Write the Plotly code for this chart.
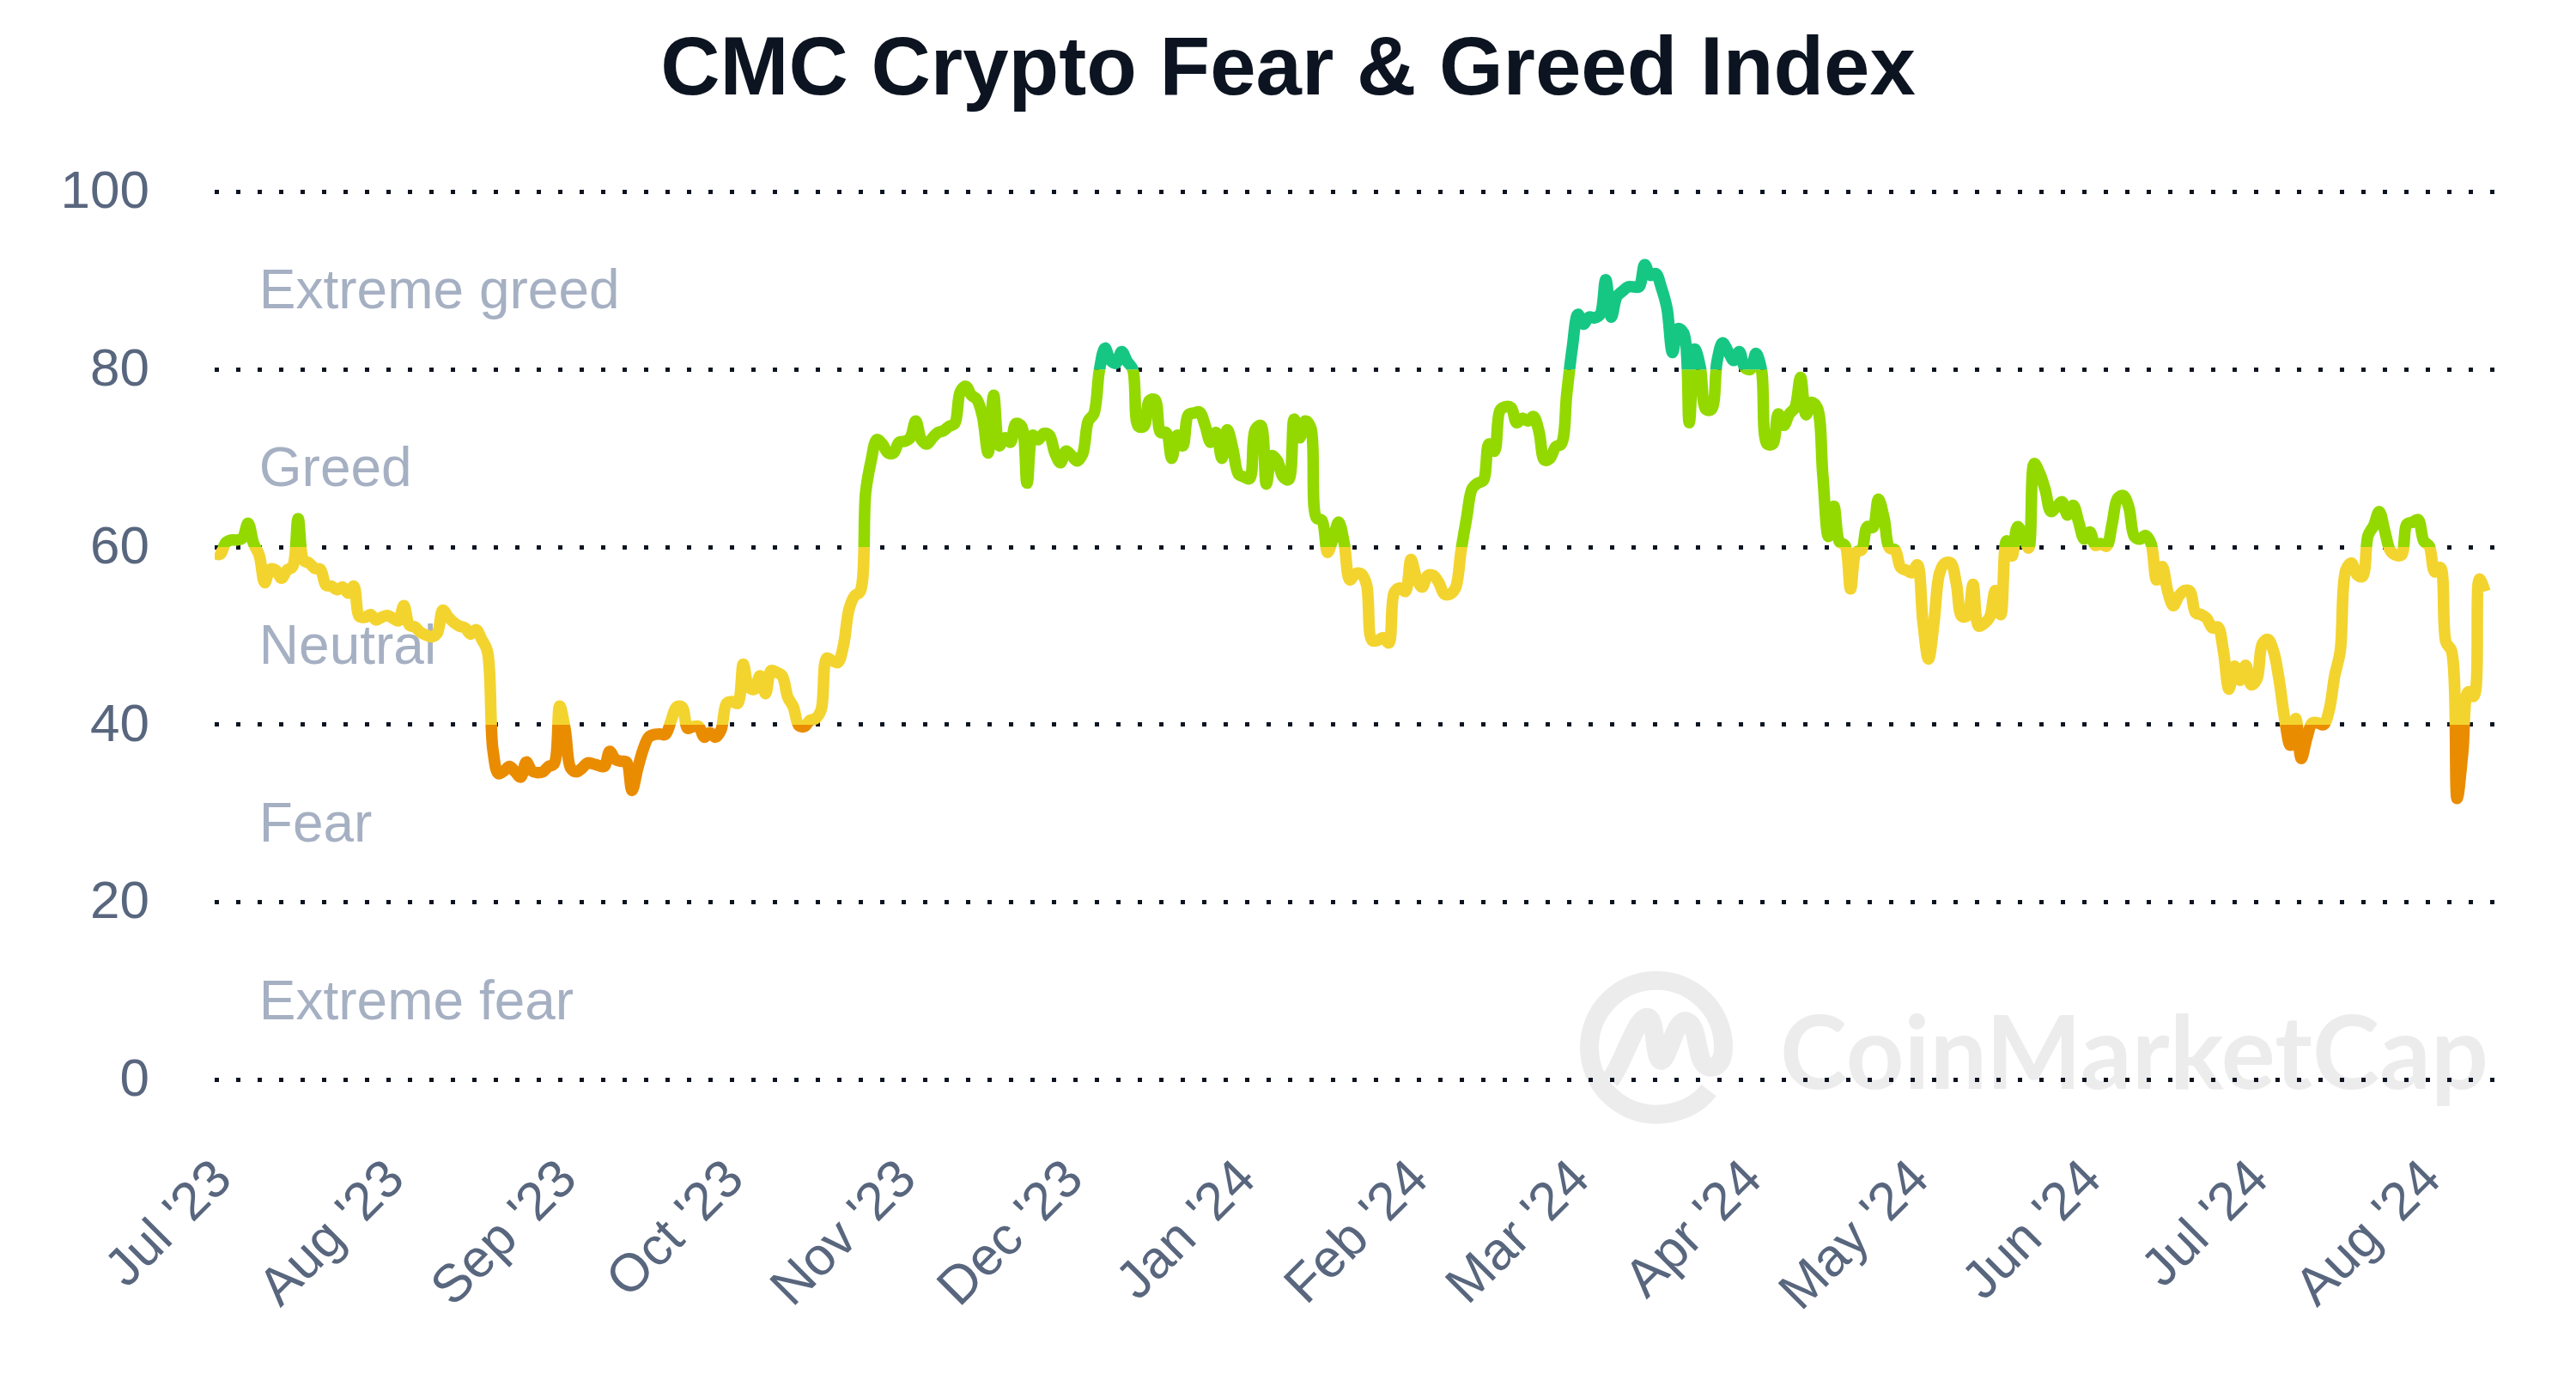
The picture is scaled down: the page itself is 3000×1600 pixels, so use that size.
## CMC Crypto Fear & Greed Index, daily readings from the chart
import pandas as pd
import plotly.graph_objects as go

start_date = "2023-06-29"

fear_greed_values = [
    59.3, 59.2, 60.5, 60.8, 60.8, 61, 62.7, 60.4, 59.1, 56,
    57.5, 57.4, 56.5, 57.4, 57.8, 63.2, 58.5, 58.2, 57.6, 57.5,
    55.7, 55.6, 55.2, 55.5, 54.8, 55.6, 52.2, 52.1, 52.4, 51.8,
    52.1, 52.3, 52, 51.7, 53.4, 51.2, 51, 50.4, 50.1, 49.9,
    50.3, 52.9, 52.1, 51.5, 51.1, 50.9, 50.2, 50.7, 49.6, 48.3,
    37.2, 34.5, 34.8, 35.3, 34.7, 34.1, 35.8, 34.8, 34.6, 34.7,
    35.3, 35.6, 42.1, 39.4, 35.1, 34.7, 35.1, 35.7, 35.6, 35.4,
    35.3, 37, 36.1, 35.9, 35.8, 32.6, 35, 37.2, 38.6, 38.9,
    38.95, 38.9, 40.4, 42, 42, 39.6, 39.8, 39.8, 38.6, 39.1,
    38.6, 39.4, 42.4, 42.6, 42.4, 46.8, 44.2, 44, 45.5, 43.5,
    46.1, 45.9, 45.5, 43.1, 42, 39.9, 39.8, 40.5, 40.7, 41.7,
    47.5, 47.2, 47, 48.9, 53, 54.5, 55, 66.2, 69.8, 72.1,
    71.6, 70.6, 70.6, 71.8, 71.9, 72.3, 74.2, 72.1, 71.6, 72.3,
    72.9, 73.1, 73.6, 73.9, 77.5, 78.1, 77.1, 76.6, 74.7, 70.6,
    77.1, 71.4, 72.3, 71.8, 73.9, 73.6, 67.2, 72.6, 72.1, 72.8,
    72.6, 70.6, 69.5, 70.8, 70.3, 69.7, 70.5, 74.2, 75, 79.9,
    82.4, 81, 80.7, 82, 80.9, 80, 73.6, 73.6, 76.5, 76.6,
    72.9, 72.9, 70, 72.6, 71.4, 74.9, 75.1, 75.2, 73.7, 71.8,
    72.9, 70, 73.2, 71, 68.2, 67.9, 67.7, 73.2, 73.7, 67.1,
    70.3, 69.7, 67.9, 67.6, 74.4, 72.3, 74.2, 73.4, 63.3, 63,
    59.4, 61, 62.8, 60.4, 56.3, 57, 57, 55.8, 49.5, 49.5,
    49.8, 49.2, 54.9, 55.4, 55, 58.6, 56.5, 55.5, 56.8, 56.8,
    56, 54.7, 54.7, 55.4, 59.6, 63.3, 66.6, 67.2, 67.5, 71.6,
    70.8, 75.4, 75.8, 75.7, 74, 74.5, 74.2, 74.7, 73, 69.8,
    70, 71.3, 71.6, 77.3, 82.5, 86.2, 85.1, 85.9, 85.8, 86.2,
    90.1, 85.9, 88.2, 88.8, 89.3, 89.3, 89.3, 91.8, 90.6, 90.8,
    89.2, 86.9, 81.9, 84.6, 84.1, 74, 82.3, 80.2, 75.5, 75.5,
    80.9, 83, 82, 81, 82, 80.2, 80, 81.8, 79.9, 71.6,
    71.6, 75, 73.7, 75, 75.7, 79.1, 74.9, 76.3, 75.7, 68.2,
    61.2, 64.6, 60.6, 60.2, 55.3, 59.4, 59.7, 62.3, 62.2, 65.4,
    63.3, 59.9, 59.7, 57.7, 57.4, 57.1, 58, 51.6, 47.4, 51.6,
    57.1, 58.2, 58.2, 55.9, 52.2, 52.3, 55.8, 51.1, 51.4, 52.1,
    55.1, 52.4, 60.7, 59, 62.3, 61.3, 59.9, 69.4, 68.3, 66.4,
    64, 64.5, 65.1, 63.6, 64.7, 62.8, 60.9, 61.7, 60.2, 60.4,
    60.1, 62.6, 65.5, 65.8, 64.5, 61.2, 60.9, 61.3, 60.4, 56.3,
    57.8, 55, 53.4, 54.5, 55.1, 55, 52.6, 52.4, 52, 50.9,
    51, 48.3, 44, 46.6, 45, 46.7, 44.5, 45.1, 49.1, 49.6,
    48.3, 45.1, 40.7, 37.7, 40.7, 36.2, 38.5, 40.2, 40.2, 40,
    41.6, 45.5, 48.3, 57.4, 58.2, 56.9, 56.7, 61.3, 62.4, 64,
    61.8, 59.6, 59.1, 59.1, 62.6, 62.8, 63.1, 60.7, 60.1, 57.2,
    57.7, 49.3, 48.3, 31.7, 36.8, 43.7, 43.2, 56.4, 55,
]

tick_dates = ["2023-07-01", "2023-08-01", "2023-09-01", "2023-10-01", "2023-11-01", "2023-12-01", "2024-01-01",
              "2024-02-01", "2024-03-01", "2024-04-01", "2024-05-01", "2024-06-01", "2024-07-01", "2024-08-01"]
tick_labels = ["Jul '23", "Aug '23", "Sep '23", "Oct '23", "Nov '23", "Dec '23", "Jan '24",
               "Feb '24", "Mar '24", "Apr '24", "May '24", "Jun '24", "Jul '24", "Aug '24"]
y_ticks = [0, 20, 40, 60, 80, 100]

band_names = ["Extreme greed", "Greed", "Neutral", "Fear", "Extreme fear"]
band_label_y = [88.4, 68.4, 48.4, 28.4, 8.4]

# value range and colour of the line in each band
line_bands = [(20, 40, "#EA8C00"), (40, 60, "#F3D42F"), (60, 80, "#93D900"), (80, 100, "#16C784")]

# the main axis runs a little past 0 and 100, plotly drops gridlines that sit on the very end of a range
Y_MIN, Y_MAX = -1, 101
# where 0 and 100 sit on the page, in pixels
Y0_PX, Y100_PX = 1258, 223.5
PX_PER_UNIT = (Y0_PX - Y100_PX) / 100
PLOT_LEFT, PLOT_RIGHT = 250, 2905
PLOT_TOP = Y100_PX - (Y_MAX - 100) * PX_PER_UNIT
PLOT_BOTTOM = Y0_PX + (0 - Y_MIN) * PX_PER_UNIT
WATERMARK = "#ECECEC"


def paper_x(px):
    return (px - PLOT_LEFT) / (PLOT_RIGHT - PLOT_LEFT)


def paper_y(px):
    return (PLOT_BOTTOM - px) / (PLOT_BOTTOM - PLOT_TOP)


def logo_path():
    start = (1990, 1270)
    curves = [(1975, 1290, 1950, 1298, 1929, 1298), (1886, 1298, 1851, 1263, 1851, 1220),
              (1851, 1177, 1886, 1142, 1929, 1142), (1972, 1142, 2007, 1177, 2007, 1220),
              (2007, 1240, 1995, 1248, 1985, 1240), (1975, 1230, 1978, 1195, 1965, 1190),
              (1950, 1185, 1945, 1230, 1935, 1235), (1925, 1235, 1930, 1185, 1918, 1185),
              (1905, 1185, 1890, 1240, 1875, 1258)]
    path = "M %.5f %.5f" % (paper_x(start[0]), paper_y(start[1]))
    for c in curves:
        path += " C " + ", ".join("%.5f %.5f" % (paper_x(c[i]), paper_y(c[i + 1])) for i in (0, 2, 4))
    return path


dates = pd.date_range(start_date, periods=len(fear_greed_values))

fig = go.Figure()

# band names go first so that the line runs over them
fig.add_trace(go.Scatter(x=["2023-07-07"] * len(band_names), y=band_label_y, text=band_names,
                         mode="text", textposition="middle right",
                         textfont=dict(family="Liberation Sans", size=64, color="#A6B0C3"),
                         hoverinfo="skip", showlegend=False))

# one trace per band, each on its own slice of the plot, so the colour changes exactly at the threshold
layout_axes = {}
for i, (low, high, colour) in enumerate(line_bands):
    axis_name = "y%d" % (i + 2)
    fig.add_trace(go.Scatter(x=dates, y=fear_greed_values, mode="lines", yaxis=axis_name,
                             line=dict(color=colour, width=13.5, shape="spline", smoothing=1.0, simplify=False),
                             showlegend=False))
    layout_axes["yaxis%d" % (i + 2)] = dict(domain=[(low - Y_MIN) / (Y_MAX - Y_MIN), (high - Y_MIN) / (Y_MAX - Y_MIN)],
                                            range=[low, high], anchor="x",
                                            visible=False, showgrid=False, zeroline=False)

fig.update_layout(
    width=3000, height=1600,
    margin=dict(l=PLOT_LEFT, r=3000 - PLOT_RIGHT, t=PLOT_TOP, b=1600 - PLOT_BOTTOM),
    plot_bgcolor="rgba(0,0,0,0)", paper_bgcolor="white", showlegend=False,
    font=dict(family="Liberation Sans", color="#58667E", size=62),
    title=dict(text="<b>CMC Crypto Fear & Greed Index</b>", x=0.5, xanchor="center", y=1 - 76 / 1600, yanchor="middle",
               font=dict(family="Liberation Sans", size=96, color="#0D1421")),
    xaxis=dict(type="date", range=[start_date, "2024-08-11 17:00"], tickmode="array",
               tickvals=tick_dates, ticktext=tick_labels, tickangle=-45, tickfont=dict(size=62),
               showgrid=False, zeroline=False, showline=False, ticks="",
               ticklabelstandoff=54, ticklabelshift=-12),
    yaxis=dict(domain=[0, 1], range=[Y_MIN, Y_MAX], tickmode="array", tickvals=y_ticks, zeroline=False, showline=False,
               showgrid=True, gridcolor="#0D1421", gridwidth=5, griddash="5px,20px", ticks="",
               ticklabelstandoff=75, ticklabelshift=-3),
    shapes=[
        dict(type="path", xref="paper", yref="paper", layer="below", path=logo_path(),
             line=dict(color=WATERMARK, width=22), fillcolor="rgba(0,0,0,0)"),
        dict(type="rect", xref="paper", yref="paper", layer="below",
             x0=paper_x(2077), x1=paper_x(2894), y0=paper_y(1298), y1=paper_y(1144),
             line=dict(width=0), fillcolor="rgba(0,0,0,0)",
             label=dict(text="CoinMarketCap", textposition="middle center", padding=0,
                        font=dict(family="Lato", size=118, color=WATERMARK, weight=700))),
    ],
    **layout_axes,
)

fig.write_html("out.html", config=dict(displayModeBar=False),
               post_script="document.body.style.margin='0';document.body.style.overflow='hidden';")
